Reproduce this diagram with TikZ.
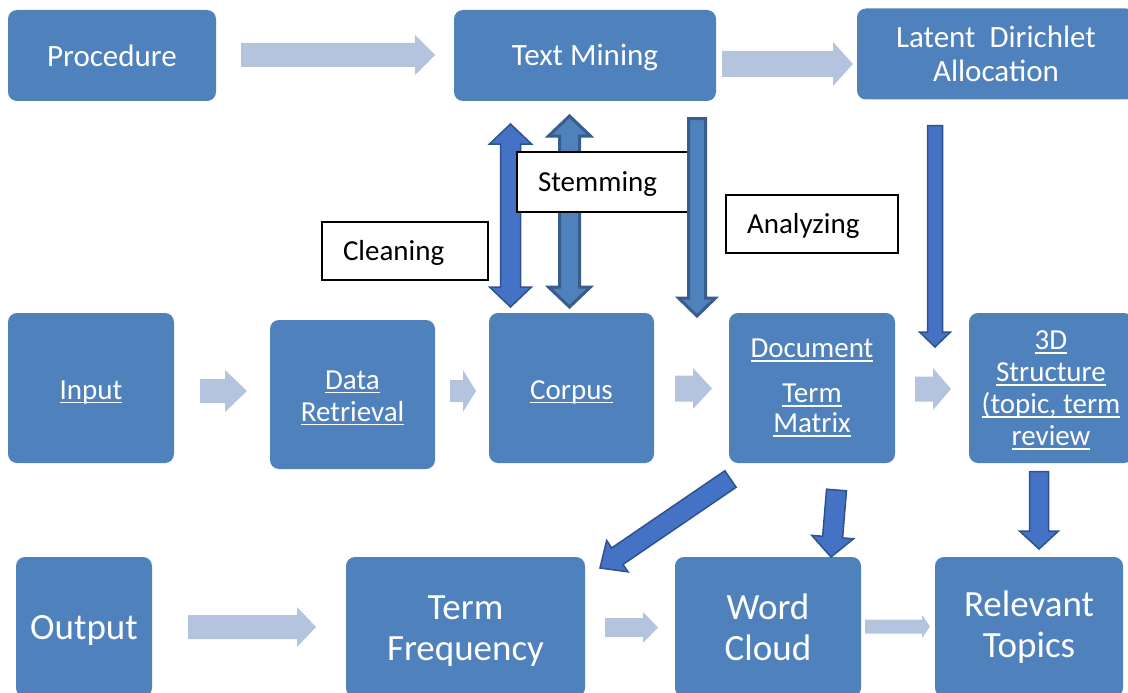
\documentclass[tikz,border=0pt]{standalone}
\usepackage{fontspec}
\setmainfont{Carlito}
\usetikzlibrary{calc}
\definecolor{boxblue}{HTML}{4F81BD}
\definecolor{lightarrow}{HTML}{B4C4DF}
\definecolor{darkfill}{HTML}{4472C4}
\definecolor{darkline}{HTML}{2F528F}
\definecolor{midline}{HTML}{385D8A}
% underline at a fixed depth below the baseline
\newcommand{\uln}[1]{\setbox0\hbox{#1}\rlap{\vrule height -2.5pt depth 4pt width \wd0}\box0}
% single block arrow: style, from, to, shaft half width, head half width, head length
\newcommand{\blockarr}[6]{%
  \path ($(#3)!#6!(#2)$) coordinate (bh);
  \path[#1] ($(#2)!#4!90:(#3)$) -- ($(bh)!#4!90:(#3)$) -- ($(bh)!#5!90:(#3)$) -- (#3)
    -- ($(bh)!#5!-90:(#3)$) -- ($(bh)!#4!-90:(#3)$) -- ($(#2)!#4!-90:(#3)$) -- cycle;}
% double block arrow
\newcommand{\dblarr}[6]{%
  \path ($(#2)!#6!(#3)$) coordinate (bha) ($(#3)!#6!(#2)$) coordinate (bhb);
  \path[#1] (#2) -- ($(bha)!#5!90:(#3)$) -- ($(bha)!#4!90:(#3)$) -- ($(bhb)!#4!90:(#3)$)
    -- ($(bhb)!#5!90:(#3)$) -- (#3) -- ($(bhb)!#5!-90:(#3)$) -- ($(bhb)!#4!-90:(#3)$)
    -- ($(bha)!#4!-90:(#3)$) -- ($(bha)!#5!-90:(#3)$) -- cycle;}
\begin{document}
\begin{tikzpicture}[x=1pt,y=-1pt,
  box/.style={fill=boxblue, rounded corners=9pt, inner sep=0pt, text=white, align=center},
  toptxt/.style={font=\fontsize{31}{34}\selectfont},
  midtxt/.style={font=\fontsize{29}{32}\selectfont},
  bottxt/.style={font=\fontsize{37}{41}\selectfont},
  lbl/.style={draw=black, fill=white, line width=1.5pt, inner xsep=20pt, inner ysep=0pt,
    align=left, font=\fontsize{29}{32}\selectfont},
  lightarr/.style={fill=lightarrow},
  darkarr/.style={fill=darkfill, draw=darkline, line width=1.5pt, line join=miter},
  midarr/.style={fill=boxblue, draw=midline, line width=3pt, line join=miter}]
\useasboundingbox (0,0) rectangle (1128,693);
\clip (0,0) rectangle (1128,693);

% top row
\node[box, toptxt, minimum width=208pt, minimum height=91pt] (proc) at (112,55.5) {Procedure};
\node[box, toptxt, minimum width=262pt, minimum height=91pt] (tm) at (585,55.5) {\rule{0pt}{26pt}Text Mining};
\node[box, toptxt, minimum width=278pt, minimum height=91pt] (lda) at (996,54) {Latent\ \ Dirichlet\\Allocation};

% middle row
\node[box, midtxt, minimum width=166pt, minimum height=150pt] (inp) at (91,388) {\rule{0pt}{27pt}\uln{Input}};
\node[box, midtxt, minimum width=165pt, minimum height=149pt] (dr) at (352.5,394.5) {\rule{0pt}{25pt}\uln{Data}\\\uln{Retrieval}};
\node[box, midtxt, minimum width=165pt, minimum height=150pt] (corp) at (571.5,388) {\rule{0pt}{27pt}\uln{Corpus}};
\node[box, midtxt, minimum width=166pt, minimum height=150pt] (dtm) at (812,388) {\uln{Document}\\[13pt]\uln{Term}\\[-2pt]\uln{Matrix}};
\node[box, midtxt, minimum width=164pt, minimum height=150pt] (sd) at (1051,388) {\rule{0pt}{23pt}\uln{3D}\\\uln{Structure}\\\uln{(topic, term}\\\uln{review}};

% bottom row
\node[box, bottxt, minimum width=136pt, minimum height=140pt] (out) at (84,627) {\rule{0pt}{31pt}Output};
\node[box, bottxt, minimum width=239pt, minimum height=140pt] (tf) at (465.5,627) {\rule{0pt}{31pt}Term\\Frequency};
\node[box, bottxt, minimum width=186pt, minimum height=140pt] (wc) at (768,627) {Word\\Cloud};
\node[box, bottxt, minimum width=188pt, minimum height=140pt] (rt) at (1029,627) {Relevant\\Topics};

% light flow arrows
\coordinate (a1s) at (241,55); \coordinate (a1e) at (435,55);
\coordinate (a2s) at (722,64); \coordinate (a2e) at (853,64);
\coordinate (a3s) at (200,391); \coordinate (a3e) at (247,391);
\coordinate (a4s) at (450,391); \coordinate (a4e) at (476,391);
\coordinate (a5s) at (675,388.5); \coordinate (a5e) at (712,388.5);
\coordinate (a6s) at (915,389); \coordinate (a6e) at (951,389);
\coordinate (a7s) at (188,627); \coordinate (a7e) at (316,627);
\coordinate (a8s) at (605,627.5); \coordinate (a8e) at (658,627.5);
\coordinate (a9s) at (865,626.5); \coordinate (a9e) at (930,626.5);
\blockarr{lightarr}{a1s}{a1e}{12pt}{20pt}{20pt}
\blockarr{lightarr}{a2s}{a2e}{13pt}{22pt}{20pt}
\blockarr{lightarr}{a3s}{a3e}{12pt}{21pt}{22pt}
\blockarr{lightarr}{a4s}{a4e}{11pt}{21pt}{13pt}
\blockarr{lightarr}{a5s}{a5e}{13pt}{20.5pt}{19pt}
\blockarr{lightarr}{a6s}{a6e}{12.5pt}{21pt}{18pt}
\blockarr{lightarr}{a7s}{a7e}{12pt}{20pt}{19pt}
\blockarr{lightarr}{a8s}{a8e}{9.5pt}{15.5pt}{15pt}
\blockarr{lightarr}{a9s}{a9e}{7pt}{11.5pt}{8pt}

% vertical process arrows
\coordinate (clt) at (510.5,124); \coordinate (clb) at (510.5,307);
\coordinate (stt) at (569.5,116); \coordinate (stb) at (569.5,307);
\coordinate (ant) at (697,118.5); \coordinate (anb) at (697,316);
\dblarr{darkarr}{clt}{clb}{10pt}{21pt}{20pt}
\dblarr{midarr}{stt}{stb}{10pt}{21pt}{20pt}

% labels
\node[lbl, minimum width=173pt, minimum height=60pt, text width=131pt] (stem) at (603.5,182) {\rule{0pt}{24pt}Stemming};
\node[lbl, minimum width=166pt, minimum height=58pt, text width=124pt] (clean) at (405,251) {\rule{0pt}{24pt}Cleaning};
\node[lbl, minimum width=172pt, minimum height=58pt, text width=130pt] (anal) at (812,224) {\rule{0pt}{24pt}Analyzing};

\blockarr{midarr}{ant}{anb}{8.5pt}{18.5pt}{18pt}

% LDA and output arrows
\coordinate (ldat) at (935,125.5); \coordinate (ldab) at (935,347);
\blockarr{darkarr}{ldat}{ldab}{7.5pt}{15.5pt}{15pt}
\coordinate (dgs) at (730.5,479); \coordinate (dge) at (600,568);
\blockarr{darkarr}{dgs}{dge}{10pt}{19pt}{21pt}
\coordinate (dws) at (836.5,490); \coordinate (dwe) at (831,557);
\blockarr{darkarr}{dws}{dwe}{10pt}{21pt}{20pt}
\coordinate (rts) at (1039,471.5); \coordinate (rte) at (1039,549);
\blockarr{darkarr}{rts}{rte}{9.5pt}{19.5pt}{18pt}
\end{tikzpicture}
\end{document}
